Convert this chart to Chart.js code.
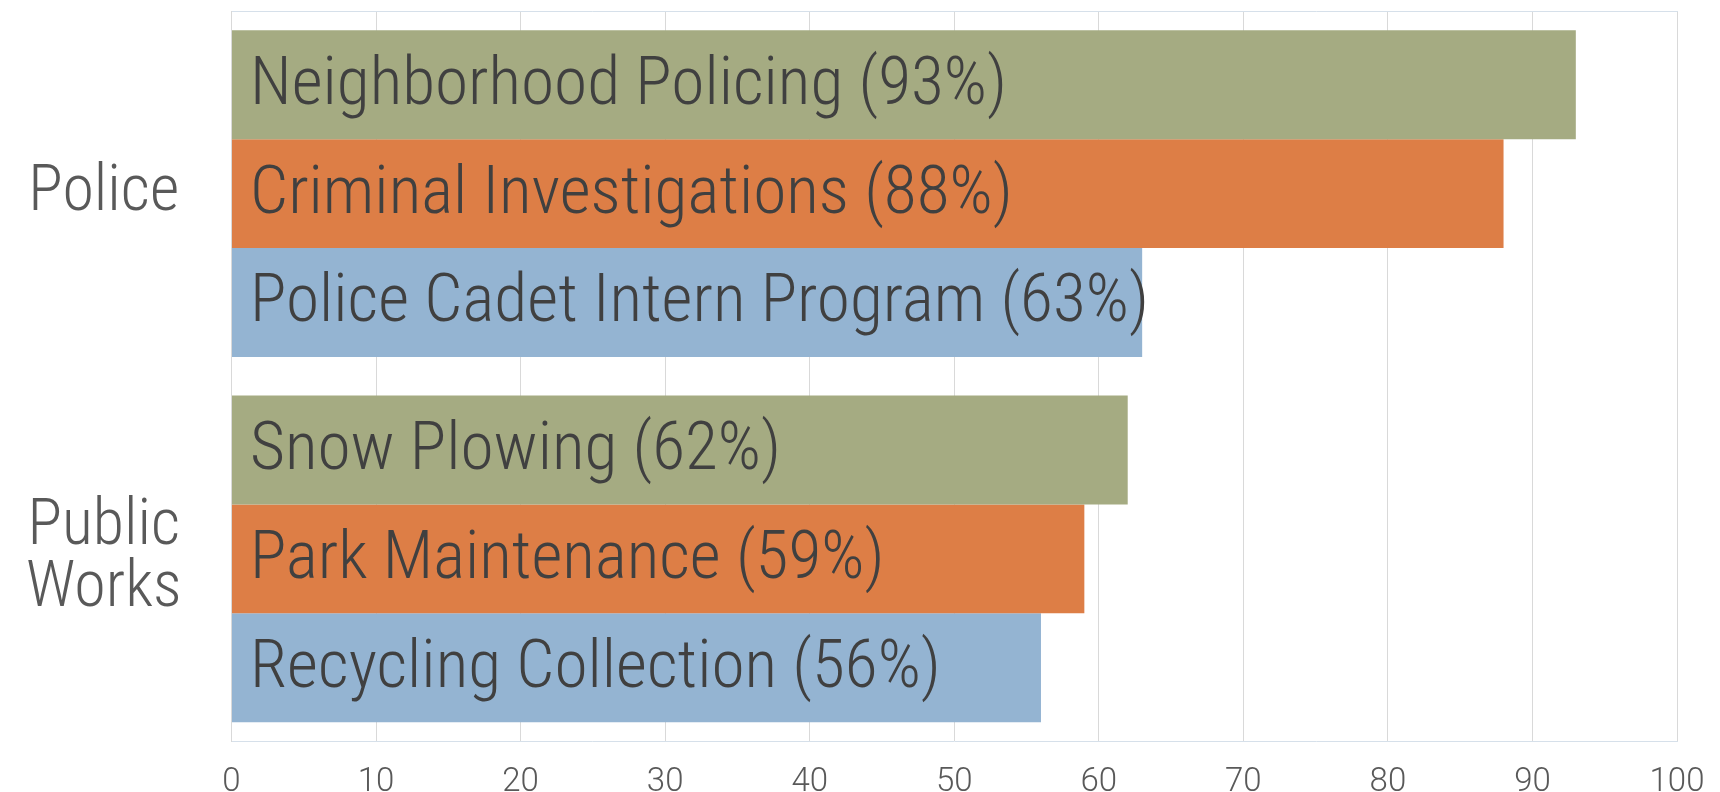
<!DOCTYPE html>
<html>
<head>
<meta charset="utf-8">
<script src="https://cdn.jsdelivr.net/npm/chart.js@4.4.1/dist/chart.umd.min.js"></script>
<style>
  html, body { margin: 0; padding: 0; background: #ffffff; }
  #wrap { width: 1720px; height: 792px; position: relative; }
</style>
</head>
<body>
<div id="wrap"><canvas id="chart"></canvas></div>
<script>
// Kategori (departemen) dan data per program
const departments = ['Police', ['Public', 'Works']];
const firstPrograms = ['Neighborhood Policing', 'Snow Plowing'];
const firstValues = [93, 62];
const secondPrograms = ['Criminal Investigations', 'Park Maintenance'];
const secondValues = [88, 59];
const thirdPrograms = ['Police Cadet Intern Program', 'Recycling Collection'];
const thirdValues = [63, 56];
const xTicks = [0, 10, 20, 30, 40, 50, 60, 70, 80, 90, 100];

const FONT = "'Roboto Condensed', 'Roboto', sans-serif";

// Plugin untuk menulis nama program di dalam bar
const barLabels = {
    id: 'barLabels',
    afterDatasetsDraw(chart) {
        const ctx = chart.ctx;
        const size = 67.5;
        ctx.save();
        ctx.font = '300 ' + size + 'px ' + FONT;
        ctx.fillStyle = '#404040';
        ctx.textAlign = 'left';
        ctx.textBaseline = 'alphabetic';
        chart.data.datasets.forEach((ds, i) => {
            chart.getDatasetMeta(i).data.forEach((bar, j) => {
                const text = ds.names[j] + ' (' + ds.data[j] + '%)';
                ctx.fillText(text, bar.base + 18, bar.y - 5 + size * 0.355);
            });
        });
        ctx.restore();
    }
};

new Chart(document.getElementById('chart'), {
    type: 'bar',
    data: {
        labels: departments,
        datasets: [
            { data: firstValues, names: firstPrograms, backgroundColor: '#a5ab82' },
            { data: secondValues, names: secondPrograms, backgroundColor: '#dd7e46' },
            { data: thirdValues, names: thirdPrograms, backgroundColor: '#94b4d2' }
        ]
    },
    options: {
        indexAxis: 'y',
        responsive: true,
        maintainAspectRatio: false,
        animation: false,
        categoryPercentage: 0.894,
        barPercentage: 1,
        layout: { padding: { top: 11, right: 43, bottom: 0, left: 0 } },
        plugins: {
            legend: { display: false },
            tooltip: { enabled: false }
        },
        scales: {
            x: {
                min: 0,
                max: 100,
                afterBuildTicks: (scale) => { scale.ticks = xTicks.map(v => ({ value: v })); },
                afterFit: (scale) => {
                    scale.height = 50.5;
                    scale.paddingLeft = 0;
                    scale.paddingRight = 0;
                },
                grid: { color: '#d9d9d9', lineWidth: 1, drawTicks: false },
                border: { color: '#d6e0ea', width: 1 },
                ticks: {
                    padding: 21,
                    color: '#595959',
                    font: { family: "'Roboto', sans-serif", size: 33, weight: 300 },
                    maxRotation: 0
                }
            },
            xTop: {
                position: 'top',
                axis: 'x',
                min: 0,
                max: 100,
                grid: { display: false, drawTicks: false },
                border: { color: '#d6e0ea', width: 1 },
                ticks: { display: false }
            },
            y: {
                afterFit: (scale) => {
                    scale.width = 231.5;
                    scale.paddingTop = 0;
                    scale.paddingBottom = 0;
                },
                grid: { display: false, drawTicks: false },
                border: { color: '#d9d9d9', width: 1 },
                ticks: {
                    crossAlign: 'center',
                    padding: 50,
                    color: '#595959',
                    font: { family: FONT, size: 64, weight: 300, lineHeight: 0.97 }
                }
            }
        }
    },
    plugins: [barLabels]
});
</script>
</body>
</html>
